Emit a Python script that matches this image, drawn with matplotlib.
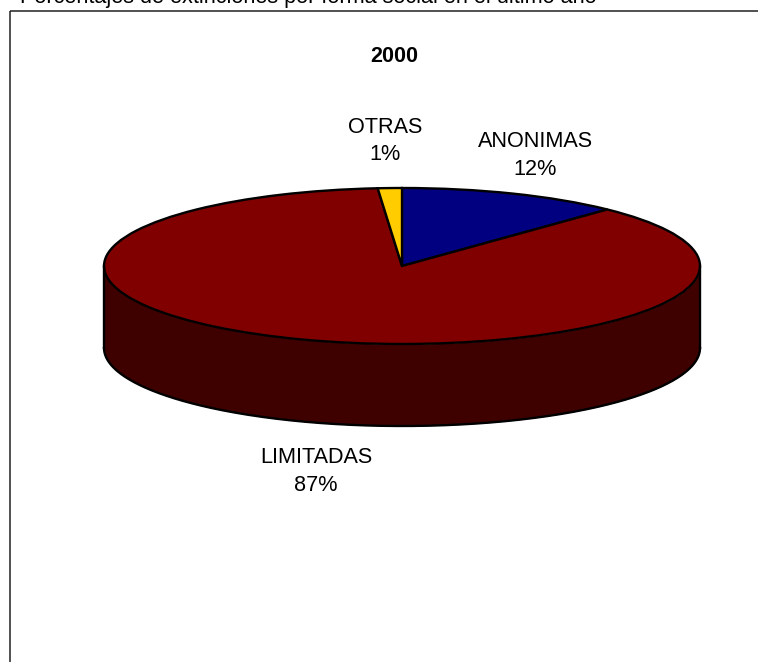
import numpy as np
import matplotlib
matplotlib.use("Agg")
import matplotlib.pyplot as plt
from matplotlib.patches import Rectangle

plt.rcParams['font.family'] = ['Liberation Sans', 'DejaVu Sans']

heading = "Porcentajes de extinciones por forma social en el último año"
title = "2000"
categories = ["ANONIMAS", "LIMITADAS", "OTRAS"]
values = [12.1, 86.6, 1.3]
colors = ["#000080", "#800000", "#FFCC00"]
side_color = "#3F0000"

W, H = 758, 662
fig = plt.figure(figsize=(W / 100, H / 100), dpi=100, facecolor="white")

# pixel-coordinate overlay for frame and text
bg = fig.add_axes([0, 0, 1, 1])
bg.set_xlim(0, W)
bg.set_ylim(H, 0)
bg.axis("off")
bg.add_patch(Rectangle((9.5, 11), W + 20, H + 20, fill=False, ec="#222222", lw=1.1))

FS = 15.6
bg.text(20, 3, heading, fontsize=FS, ha="left", va="baseline", color="black")
bg.text(394, 56.5, title, fontsize=FS, fontweight="bold", ha="center", va="center")

label_pos = {"ANONIMAS": (535.5, 155.5), "LIMITADAS": (316, 471.5), "OTRAS": (385, 141)}
for name, val in zip(categories, values):
    x, y = label_pos[name]
    bg.text(x, y, f"{name}\n{round(val):d}%", fontsize=FS, ha="center", va="center",
            linespacing=1.38, color="black")

# unit circle mapped to the ellipse on the page
cx, cy, rx, ry, depth = 402, 266, 298, 78, 82
ax = fig.add_axes([(cx - rx) / W, 1 - (cy + ry) / H, 2 * rx / W, 2 * ry / H])
ax.patch.set_alpha(0)
d = depth / ry
LW = 1.7
t = np.linspace(np.pi, 2 * np.pi, 300)
ax.fill_between(np.cos(t), np.sin(t), np.sin(t) - d, color=side_color, lw=0, clip_on=False)
ax.plot(np.cos(t), np.sin(t) - d, color="black", lw=LW, clip_on=False)
ax.plot([-1, -1], [0, -d], color="black", lw=LW, clip_on=False)
ax.plot([1, 1], [0, -d], color="black", lw=LW, clip_on=False)
wedges, _ = ax.pie(values, colors=colors, startangle=90, counterclock=False, radius=1,
                   wedgeprops=dict(edgecolor="black", linewidth=LW, clip_on=False))
ax.set_aspect("auto")
ax.set_xlim(-1, 1)
ax.set_ylim(-1, 1)
ax.axis("off")

fig.savefig("out.png", dpi=100)
